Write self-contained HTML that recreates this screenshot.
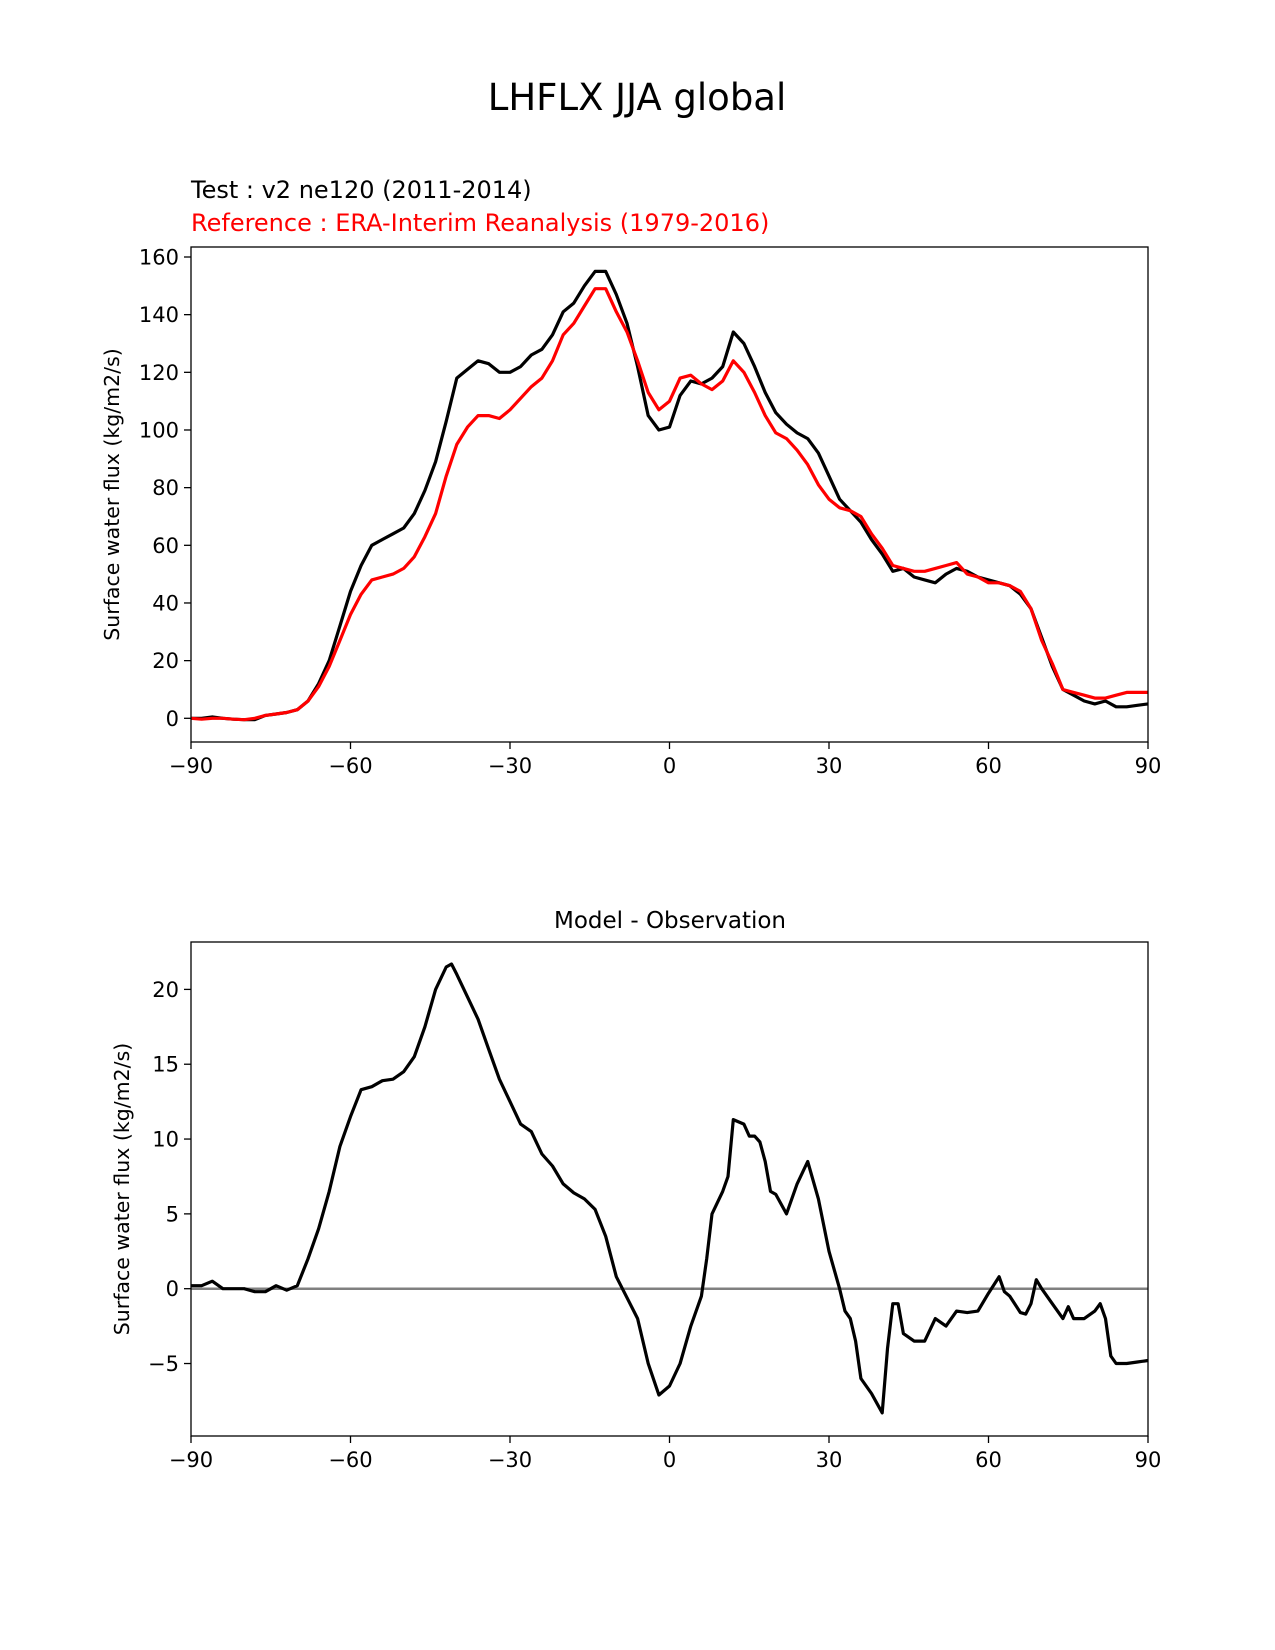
<!DOCTYPE html>
<html><head><meta charset="utf-8"><style>
html,body{margin:0;padding:0;background:#fff}
svg{display:block;font-family:"Liberation Sans","DejaVu Sans",sans-serif}
</style></head><body>
<svg id="fig" width="1275" height="1650" viewBox="0 0 1275 1650">
<text x="637" y="110" font-size="37" text-anchor="middle" font-family="DejaVu Sans, sans-serif">LHFLX JJA global</text>
<text x="191" y="198" font-size="24" font-family="DejaVu Sans, sans-serif">Test : v2 ne120 (2011-2014)</text>
<text x="191" y="231" font-size="24" fill="#ff0000" font-family="DejaVu Sans, sans-serif">Reference : ERA-Interim Reanalysis (1979-2016)</text>
<text x="670" y="928" font-size="23" text-anchor="middle" font-family="DejaVu Sans, sans-serif">Model - Observation</text>
<g id="top"></g>
<g id="bot"></g>
</svg>
<script>
const lats = [-90,-88,-86,-84,-82,-80,-78,-76,-74,-72,-70,-68,-66,-64,-62,-60,-58,-56,-54,-52,-50,-48,-46,-44,-42,-40,-38,-36,-34,-32,-30,-28,-26,-24,-22,-20,-18,-16,-14,-12,-10,-8,-6,-4,-2,0,2,4,6,8,10,12,14,16,18,20,22,24,26,28,30,32,34,36,38,40,42,44,46,48,50,52,54,56,58,60,62,64,66,68,70,72,74,76,78,80,82,84,86,88,90];
const testVals = [0,0,0.5,0,-0.3,-0.5,-0.5,1,1.5,2,3,6,12,20,32,44,53,60,62,64,66,71,79,89,103,118,121,124,123,120,120,122,126,128,133,141,144,150,155,155,147,137,122,105,100,101,112,117,116,118,122,134,130,122,113,106,102,99,97,92,84,76,72,68,62,57,51,52,49,48,47,50,52,51,49,48,47,46,43,38,28,18,10,8,6,5,6,4,4,4.5,5];
const refVals = [0,-0.3,0,0,-0.3,-0.5,0,1,1.5,2,3,6,11,18,27,36,43,48,49,50,52,56,63,71,84,95,101,105,105,104,107,111,115,118,124,133,137,143,149,149,141,134,124,113,107,110,118,119,116,114,117,124,120,113,105,99,97,93,88,81,76,73,72,70,64,59,53,52,51,51,52,53,54,50,49,47,47,46,44,38,27,19,10,9,8,7,7,8,9,9,9];
const diffLats = [-90,-88,-86,-84,-82,-80,-78,-76,-74,-72,-70,-68,-66,-64,-62,-60,-58,-56,-54,-52,-50,-48,-46,-44,-42,-41,-40,-38,-36,-34,-32,-30,-28,-26,-24,-22,-20,-18,-16,-14,-12,-10,-8,-6,-4,-2,0,2,4,6,7,8,10,11,12,14,15,16,17,18,19,20,22,24,26,28,30,32,33,34,35,36,38,40,41,42,43,44,46,48,50,52,54,56,58,60,62,63,64,66,67,68,69,70,72,74,75,76,78,80,81,82,83,84,86,88,90];
const diffVals = [0.2,0.2,0.5,0,0,0,-0.2,-0.2,0.2,-0.1,0.2,2,4,6.5,9.5,11.5,13.3,13.5,13.9,14,14.5,15.5,17.5,20,21.5,21.7,21,19.5,18,16,14,12.5,11,10.5,9,8.2,7,6.4,6,5.3,3.5,0.8,-0.6,-2,-5,-7.1,-6.5,-5,-2.5,-0.5,2,5,6.5,7.5,11.3,11,10.2,10.2,9.8,8.5,6.5,6.3,5,7,8.5,6,2.5,0,-1.5,-2,-3.5,-6,-7,-8.3,-4,-1,-1,-3,-3.5,-3.5,-2,-2.5,-1.5,-1.6,-1.5,-0.3,0.8,-0.2,-0.5,-1.6,-1.7,-1,0.6,0,-1,-2,-1.2,-2,-2,-1.5,-1,-2,-4.5,-5,-5,-4.9,-4.8];
const xTicks = [-90,-60,-30,0,30,60,90];
const xTickLabels = ["\u221290","\u221260","\u221230","0","30","60","90"];
const topYTicks = [0,20,40,60,80,100,120,140,160];
const botYTicks = [-5,0,5,10,15,20];
const botYTickLabels = ["\u22125","0","5","10","15","20"];

const NS="http://www.w3.org/2000/svg";
function mk(parent,tag,attrs){const e=document.createElementNS(NS,tag);for(const k in attrs)e.setAttribute(k,attrs[k]);parent.appendChild(e);return e;}
const X0=191,X1=1148;
function xs(v){return X0+(v+90)/180*(X1-X0);}
function panel(g,top,bottom,ys,yticks,ylabels,ylabelText,series){
  for(const s of series){
    const p=mk(g,'path',{d:s.xs.map((v,i)=>(i?'L':'M')+xs(v).toFixed(1)+' '+ys(s.vals[i]).toFixed(1)).join(''),fill:'none',stroke:s.color,'stroke-width':s.w,'stroke-linejoin':'round'});
    
    
  }
  const r=mk(g,'rect',{x:X0,y:top,width:X1-X0,height:bottom-top,fill:'none',stroke:'#000','stroke-width':1.3});
  
  
  xTicks.forEach((t,i)=>{
    mk(g,'line',{x1:xs(t),x2:xs(t),y1:bottom,y2:bottom+7,stroke:'#000','stroke-width':1.3});
    const tx=mk(g,'text',{x:xs(t),y:bottom+31,'font-size':21,'text-anchor':'middle','font-family':'DejaVu Sans, sans-serif'});
    tx.textContent=xTickLabels[i];
    
    
  });
  yticks.forEach((t,i)=>{
    mk(g,'line',{x1:X0-7,x2:X0,y1:ys(t),y2:ys(t),stroke:'#000','stroke-width':1.3});
    const tx=mk(g,'text',{x:X0-12,y:ys(t)+7.5,'font-size':21,'text-anchor':'end','font-family':'DejaVu Sans, sans-serif'});
    tx.textContent=ylabels[i];
    
    
  });
  const cy=(top+bottom)/2, cx=ylabelText.x;
  const yl=mk(g,'text',{x:cx,y:cy,'font-size':20.5,'text-anchor':'middle',transform:`rotate(-90 ${cx} ${cy})`,'font-family':'DejaVu Sans, sans-serif'});
  yl.textContent='Surface water flux (kg/m2/s)';
  
  
}
const topG=document.getElementById('top');
const ysTop=v=>718.3-v*(718.3-257)/160;
panel(topG,247,742,ysTop,topYTicks,topYTicks.map(String),{x:119},[
  {xs:lats,vals:testVals,color:'#000',w:3.2,name:'test-line'},
  {xs:lats,vals:refVals,color:'#ff0000',w:3.2,name:'reference-line'}]);
const botG=document.getElementById('bot');
const ysBot=v=>1288.7-v*(1288.7-989.4)/20;
const zl=mk(botG,'line',{x1:X0,x2:X1,y1:ysBot(0),y2:ysBot(0),stroke:'#808080','stroke-width':2.5});


panel(botG,942,1436,ysBot,botYTicks,botYTickLabels,{x:129},[
  {xs:diffLats,vals:diffVals,color:'#000',w:3.2,name:'difference-line'}]);
</script>
</body></html>
